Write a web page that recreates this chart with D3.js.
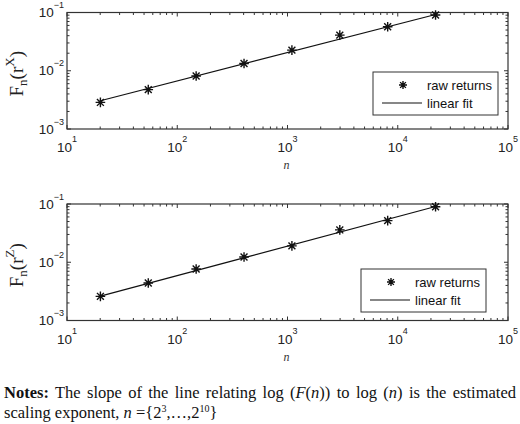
<!DOCTYPE html>
<html>
<head>
<meta charset="utf-8">
<script src="https://cdn.jsdelivr.net/npm/d3@7"></script>
<style>
  body { margin: 0; background: #fff; }
  svg { display: block; }
  .tick-label { font-family: "Liberation Sans", Arial, sans-serif; font-size: 13.5px; fill: #222; }
  .legend-text { font-family: "Liberation Sans", Arial, sans-serif; font-size: 13px; fill: #111; }
  .ylab { font-family: "Liberation Serif", "Times New Roman", serif; font-size: 19px; fill: #222; }
  .xlab { font-family: "Liberation Serif", "Times New Roman", serif; font-size: 12px; font-style: italic; fill: #333; }
  .notes { font-family: "Liberation Serif", "Times New Roman", serif; font-size: 16.5px; fill: #111; }
</style>
</head>
<body>
<svg id="chart" width="520" height="424"></svg>
<script>
// window sizes n = e^3 ... e^10
var nVals = [20.09, 54.6, 148.4, 403.4, 1096.6, 2981, 8103, 22026];
// fluctuation function
var rawX = [0.00286, 0.00474, 0.00813, 0.0133, 0.0226, 0.0409, 0.0569, 0.0906];
var rawZ = [0.0026, 0.00441, 0.00765, 0.0123, 0.0191, 0.0359, 0.0518, 0.0899];
// fitted line end points
var fitN = [20.09, 22026];
var fitX = [0.00305, 0.0925];
var fitZ = [0.00262, 0.0905];

var xTicks = [1, 2, 3, 4, 5];     // exponents of 10
var yTicks = [-3, -2, -1];

var svg = d3.select('#chart');

var panels = [
  { raw: rawX, fit: fitX, top: 12.5, sup: 'X', legend: { x: 373, y: 72 } },
  { raw: rawZ, fit: fitZ, top: 204, sup: 'Z', legend: { x: 361, y: 269 } }
];

var left = 67, right = 508, plotH = 116.5;

function minorTicks(lo, hi) {
  var out = [];
  for (var e = lo; e < hi; e++) {
    for (var k = 2; k <= 9; k++) out.push(k * Math.pow(10, e));
  }
  return out;
}

function star(g, x, y, r) {
  var d = 'M' + (x - r) + ',' + y + 'H' + (x + r) +
          'M' + x + ',' + (y - r) + 'V' + (y + r) +
          'M' + (x - r * 0.72) + ',' + (y - r * 0.72) + 'L' + (x + r * 0.72) + ',' + (y + r * 0.72) +
          'M' + (x - r * 0.72) + ',' + (y + r * 0.72) + 'L' + (x + r * 0.72) + ',' + (y - r * 0.72);
  g.append('path').attr('d', d).attr('stroke', '#111').attr('stroke-width', 1.4).attr('fill', 'none');
}

panels.forEach(function (p) {
  var top = p.top, bottom = top + plotH;
  var x = d3.scaleLog().domain([10, 1e5]).range([left, right]);
  var y = d3.scaleLog().domain([1e-3, 1e-1]).range([bottom, top]);
  var g = svg.append('g');

  // ticks (inward, all four sides)
  var majX = xTicks.map(function (e) { return Math.pow(10, e); });
  var majY = yTicks.map(function (e) { return Math.pow(10, e); });
  var minX = minorTicks(1, 5), minY = minorTicks(-3, -1);

  function xt(vals, len) {
    vals.forEach(function (v) {
      var px = x(v);
      g.append('line').attr('x1', px).attr('x2', px).attr('y1', bottom).attr('y2', bottom - len)
        .attr('stroke', '#333').attr('stroke-width', 1);
      g.append('line').attr('x1', px).attr('x2', px).attr('y1', top).attr('y2', top + len)
        .attr('stroke', '#333').attr('stroke-width', 1);
    });
  }
  function yt(vals, len) {
    vals.forEach(function (v) {
      var py = y(v);
      g.append('line').attr('x1', left).attr('x2', left + len).attr('y1', py).attr('y2', py)
        .attr('stroke', '#333').attr('stroke-width', 1);
      g.append('line').attr('x1', right).attr('x2', right - len).attr('y1', py).attr('y2', py)
        .attr('stroke', '#333').attr('stroke-width', 1);
    });
  }
  xt(minX, 2.5); xt(majX, 4);
  yt(minY, 2.5); yt(majY, 4);

  g.append('rect').attr('x', left).attr('y', top).attr('width', right - left).attr('height', plotH)
    .attr('fill', 'none').attr('stroke', '#333').attr('stroke-width', 1.2);

  // x tick labels
  xTicks.forEach(function (e) {
    var t = g.append('text').attr('class', 'tick-label')
      .attr('x', x(Math.pow(10, e))).attr('y', bottom + 23).attr('text-anchor', 'middle');
    t.append('tspan').text('10');
    t.append('tspan').attr('dy', -10).style('font-size', '9px').text(e);
  });
  // y tick labels
  yTicks.forEach(function (e) {
    var t = g.append('text').attr('class', 'tick-label')
      .attr('x', left - 3).attr('y', y(Math.pow(10, e)) + 4.5).attr('text-anchor', 'end');
    t.append('tspan').text('10');
    t.append('tspan').attr('dy', -9).style('font-size', '9px').text('\u2212' + Math.abs(e));
  });

  // fitted line
  var line = d3.line().x(function (d) { return x(d[0]); }).y(function (d) { return y(d[1]); });
  g.append('path').datum(d3.zip(fitN, p.fit)).attr('d', line)
    .attr('fill', 'none').attr('stroke', '#111').attr('stroke-width', 1.2);

  // raw points
  nVals.forEach(function (n, i) { star(g, x(n), y(p.raw[i]), 4.8); });

  // axis labels
  g.append('text').attr('class', 'xlab').attr('x', (left + right) / 2 - 1).attr('y', bottom + 40)
    .attr('text-anchor', 'middle').text('n');

  var yl = g.append('text').attr('class', 'ylab').attr('text-anchor', 'middle')
    .attr('transform', 'translate(23,' + (top + plotH / 2 + 3) + ') rotate(-90)');
  yl.append('tspan').text('F');
  yl.append('tspan').attr('dy', 4).style('font-size', '13px').text('n');
  yl.append('tspan').attr('dy', -4).text('(r');
  yl.append('tspan').attr('dy', -9).style('font-size', '13px').text(p.sup);
  yl.append('tspan').attr('dy', 9).text(')');

  // legend
  var L = p.legend;
  g.append('rect').attr('x', L.x).attr('y', L.y).attr('width', 125).attr('height', 43)
    .attr('fill', '#fff').attr('stroke', '#333').attr('stroke-width', 1);
  star(g, L.x + 30, L.y + 13, 4);
  g.append('text').attr('class', 'legend-text').attr('x', L.x + 54).attr('y', L.y + 18).text('raw returns');
  g.append('line').attr('x1', L.x + 9).attr('x2', L.x + 49).attr('y1', L.y + 31).attr('y2', L.y + 31)
    .attr('stroke', '#111').attr('stroke-width', 1.2);
  g.append('text').attr('class', 'legend-text').attr('x', L.x + 54).attr('y', L.y + 36).text('linear fit');
});

// notes (first line is justified to the full width)
var n1 = svg.append('text').attr('class', 'notes').attr('x', 4).attr('y', 398);
n1.append('tspan').style('font-weight', 'bold').text('Notes:');
n1.append('tspan').text(' The slope of the line relating log (');
n1.append('tspan').style('font-style', 'italic').text('F');
n1.append('tspan').text('(');
n1.append('tspan').style('font-style', 'italic').text('n');
n1.append('tspan').text(')) to log (');
n1.append('tspan').style('font-style', 'italic').text('n');
n1.append('tspan').text(') is the estimated');
var natural = n1.node().getComputedTextLength();
var gaps = 14;
n1.style('word-spacing', Math.max(0, (512 - natural) / gaps) + 'px');

var n2 = svg.append('text').attr('class', 'notes').attr('x', 4).attr('y', 418);
n2.append('tspan').text('scaling exponent, ');
n2.append('tspan').style('font-style', 'italic').text('n');
n2.append('tspan').text(' ={2');
n2.append('tspan').attr('dy', -6).style('font-size', '10px').text('3');
n2.append('tspan').attr('dy', 6).text(',\u2026,2');
n2.append('tspan').attr('dy', -6).style('font-size', '10px').text('10');
n2.append('tspan').attr('dy', 6).text('}');
</script>
</body>
</html>
